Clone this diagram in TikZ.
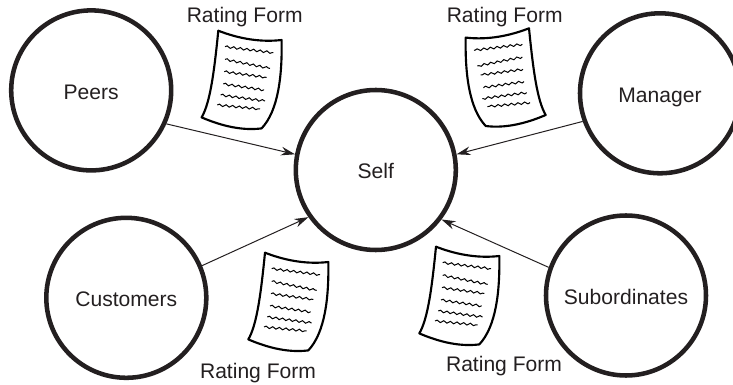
\documentclass[tikz,border=0pt]{standalone}
\usepackage{fontspec}
\setmainfont{Liberation Sans}
\usetikzlibrary{arrows.meta,decorations.pathmorphing}
\definecolor{inkdark}{HTML}{231F20}
\tikzset{ratingform/.pic={
    \draw [line width=1.6pt, fill=white, line join=round] (0,0) .. controls (18,7) and (40,12) .. (63.3,9.3)
        .. controls (64,45) and (60,80) .. (43.3,97.7)
        .. controls (25,100) and (5,96) .. (-16.7,86.7)
        .. controls (-8,72) and (-4,40) .. cycle;
    \foreach \sx/\sy/\ex/\ey in {6.7/16/55/22, 6.7/28.7/51.7/37.7, 6/41/48.3/46.7, 5/53.3/45.7/59.3, 2.3/64.3/46.7/70.3, -1/74.3/41.7/78.3}
        \draw [line width=0.75pt, decorate, decoration={snake, segment length=5pt, amplitude=0.8pt}] (\sx,\sy) -- (\ex,\ey);
}}
\begin{document}
\begin{tikzpicture}[x=0.75pt, y=-0.75pt, font=\fontsize{15.8}{18}\selectfont, text=inkdark]
    \tikzstyle{rater} = [circle, draw=inkdark, line width=3.4pt, minimum size=120pt, inner sep=0pt, text height=13.5pt, text depth=0pt, align=center]
    \tikzstyle{formlabel} = [anchor=base, inner sep=0pt]
    \tikzstyle{arrow} = [draw=inkdark, line width=0.75pt, -{Stealth[length=10.5pt, width=6.5pt]}]

    \useasboundingbox (0,0) rectangle (733,385);

    \node (self) [rater] at (375.8,170) {Self};
    \node (peers) [rater] at (91.2,90.4) {Peers};
    \node (manager) [rater] at (660,93.3) {Manager};
    \node (customers) [rater] at (126.3,297.8) {Customers};
    \node (subordinates) [rater] at (626,295.5) {Subordinates};

    \draw [arrow] (peers.-24) -- (self.169);
    \draw [arrow] (manager.200) -- (self.11);
    \draw [arrow] (customers.23) -- (self.215);
    \draw [arrow] (subordinates.160) -- (self.-37);

    \pic at (218.3,30.7) {ratingform};
    \pic [xscale=-1] at (529,28.3) {ratingform};
    \pic at (265,252.7) {ratingform};
    \pic at (436,246.7) {ratingform};

    \node (peersform) [formlabel] at (244.7,22.7) {Rating Form};
    \node (managerform) [formlabel] at (504.7,22.7) {Rating Form};
    \node (customersform) [formlabel] at (258,378.3) {Rating Form};
    \node (subordinatesform) [formlabel] at (504,371.7) {Rating Form};
\end{tikzpicture}
\end{document}
